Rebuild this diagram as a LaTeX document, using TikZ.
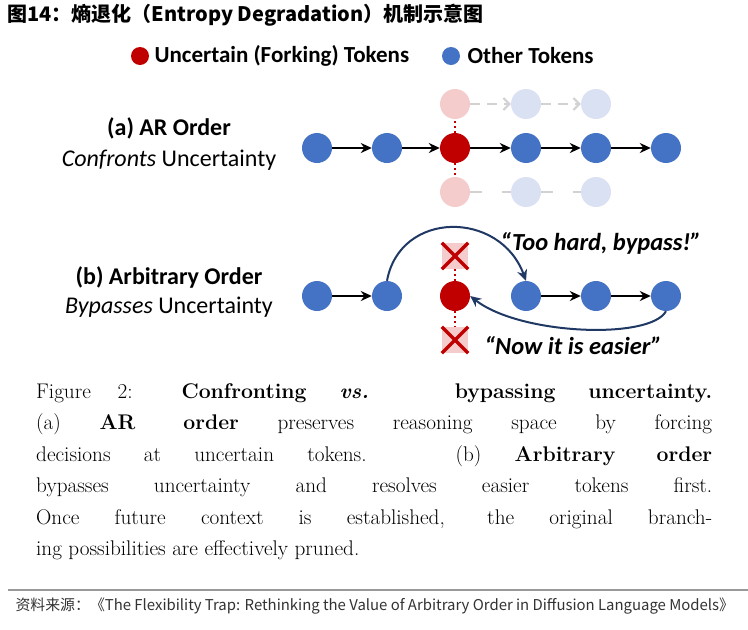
\documentclass[tikz,border=0pt]{standalone}
\usepackage{fontspec}
\setsansfont{Carlito}
\newfontfamily\cjk{Noto Sans CJK SC}
\usetikzlibrary{arrows.meta}
\definecolor{tblue}{HTML}{4472C4}
\definecolor{tred}{HTML}{C00000}
\definecolor{gred}{HTML}{F4CCCC}
\definecolor{gblue}{HTML}{D9E1F2}
\definecolor{navy}{HTML}{1F3864}
\begin{document}
\begin{tikzpicture}[x=1pt,y=-1pt,
 tok/.style={circle,fill=tblue,minimum size=30pt,inner sep=0pt},
 unc/.style={circle,fill=tred,minimum size=30pt,inner sep=0pt},
 gr/.style={circle,fill=gred,minimum size=30pt,inner sep=0pt},
 gb/.style={circle,fill=gblue,minimum size=30pt,inner sep=0pt},
 ar/.style={-{Stealth[length=11pt,width=10pt]},line width=2pt,black},
 gar/.style={-{Straight Barb[length=6pt]},line width=2pt,gray!35,dash pattern=on 10pt off 7pt},
 gln/.style={line width=2pt,gray!35,dash pattern=on 12pt off 20pt},
 dot/.style={tred,line width=2.2pt,dash pattern=on 2pt off 3pt},
 nav/.style={-{Stealth[length=11pt,width=10pt]},line width=2pt,navy},
 lab/.style={font=\sffamily\fontsize{24}{28}\selectfont},
 blab/.style={font=\sffamily\bfseries\fontsize{24}{28}\selectfont},
 quo/.style={font=\sffamily\bfseries\itshape\fontsize{24.5}{28}\selectfont},
 xm/.style={fill=gred,minimum size=26pt,inner sep=0pt},
 xl/.style={tred,line width=3.5pt}]
\useasboundingbox (0,0) rectangle (748,630);
\fill[white] (0,0) rectangle (748,630);
\node[anchor=west,font=\cjk\bfseries\fontsize{20}{22}\selectfont] (title) at (4,15) {图14：熵退化（Entropy Degradation）机制示意图};
% legend
\node[circle,fill=tred,minimum size=18pt,inner sep=0pt] (lr) at (140,56) {};
\node[anchor=west,font=\sffamily\bfseries\fontsize{23}{26}\selectfont] (lrt) at (151,56) {Uncertain (Forking) Tokens};
\node[circle,fill=tblue,minimum size=18pt,inner sep=0pt] (lb) at (451,56) {};
\node[anchor=west,font=\sffamily\bfseries\fontsize{23}{26}\selectfont] (lbt) at (464,56) {Other Tokens};
% (a)
\node[blab] (la) at (169,128) {(a) AR Order};
\node[lab] (la2) at (169,160) {\itshape Confronts\upshape\ Uncertainty};
\node[gr] (u1) at (455,104) {}; \node[gb] (u2) at (526,104) {}; \node[gb] (u3) at (596,104) {};
\node[gr] (d1) at (455,192) {}; \node[gb] (d2) at (526,192) {}; \node[gb] (d3) at (596,192) {};
\draw[gar] (u1) -- (u2); \draw[gar] (u2) -- (u3);
\draw[gln] (d1) -- (d2); \draw[gln] (d2) -- (d3);
\node[tok] (a1) at (317,148) {}; \node[tok] (a2) at (387,148) {};
\node[unc] (a3) at (455,148) {}; \node[tok] (a4) at (526,148) {};
\node[tok] (a5) at (596,148) {}; \node[tok] (a6) at (666,148) {};
\draw[dot] (a3) -- (u1); \draw[dot] (a3) -- (d1);
\foreach \i/\j in {a1/a2,a2/a3,a3/a4,a4/a5,a5/a6} \draw[ar] (\i) -- (\j);
% (b)
\node[blab] (lb1) at (169,277) {(b) Arbitrary Order};
\node[lab] (lb2) at (169,307) {\itshape Bypasses\upshape\ Uncertainty};
\node[tok] (b1) at (317,296) {}; \node[tok] (b2) at (387,296) {};
\node[unc] (b3) at (455,296) {}; \node[tok] (b4) at (526,296) {};
\node[tok] (b5) at (596,296) {}; \node[tok] (b6) at (666,296) {};
\node[xm] (x1) at (455,256) {}; \node[xm] (x2) at (455,340) {};
\draw[xl] (x1.north west) -- (x1.south east); \draw[xl] (x1.north east) -- (x1.south west);
\draw[xl] (x2.north west) -- (x2.south east); \draw[xl] (x2.north east) -- (x2.south west);
\draw[dot] (b3) -- (x1); \draw[dot] (b3) -- (x2);
\foreach \i/\j in {b1/b2,b4/b5,b5/b6} \draw[ar] (\i) -- (\j);
\draw[nav] (b2.north) .. controls (400,210) and (500,210) .. (b4.north);
\draw[nav] (b6.south) .. controls (650,340) and (520,335) .. (b3.east);
\node[quo,anchor=west] (q1) at (497,243) {“Too hard, bypass!”};
\node[quo,anchor=west] (q2) at (481,346) {“Now it is easier”};
% caption
\node[anchor=north west,inner sep=0pt] (cap) at (36,383) {\begin{minipage}{676pt}\fontsize{21.2}{31.5}\selectfont\hyphenpenalty=10000
Figure 2: \textbf{Confronting \textit{vs.} bypassing uncertainty.}\linebreak (a) \textbf{AR order} preserves reasoning space by forcing\linebreak decisions at uncertain tokens. (b) \textbf{Arbitrary order}\linebreak bypasses uncertainty and resolves easier tokens first.\linebreak Once future context is established, the original branch-\linebreak ing possibilities are effectively pruned.\end{minipage}};
\draw[gray!80,line width=2pt] (8,590) -- (748,590);
\node[anchor=west,font=\cjk\fontsize{14.9}{16}\selectfont,text=black!80] (src) at (12,606) {资料来源：《The Flexibility Trap: Rethinking the Value of Arbitrary Order in Diffusion Language Models》};
\end{tikzpicture}
\end{document}
